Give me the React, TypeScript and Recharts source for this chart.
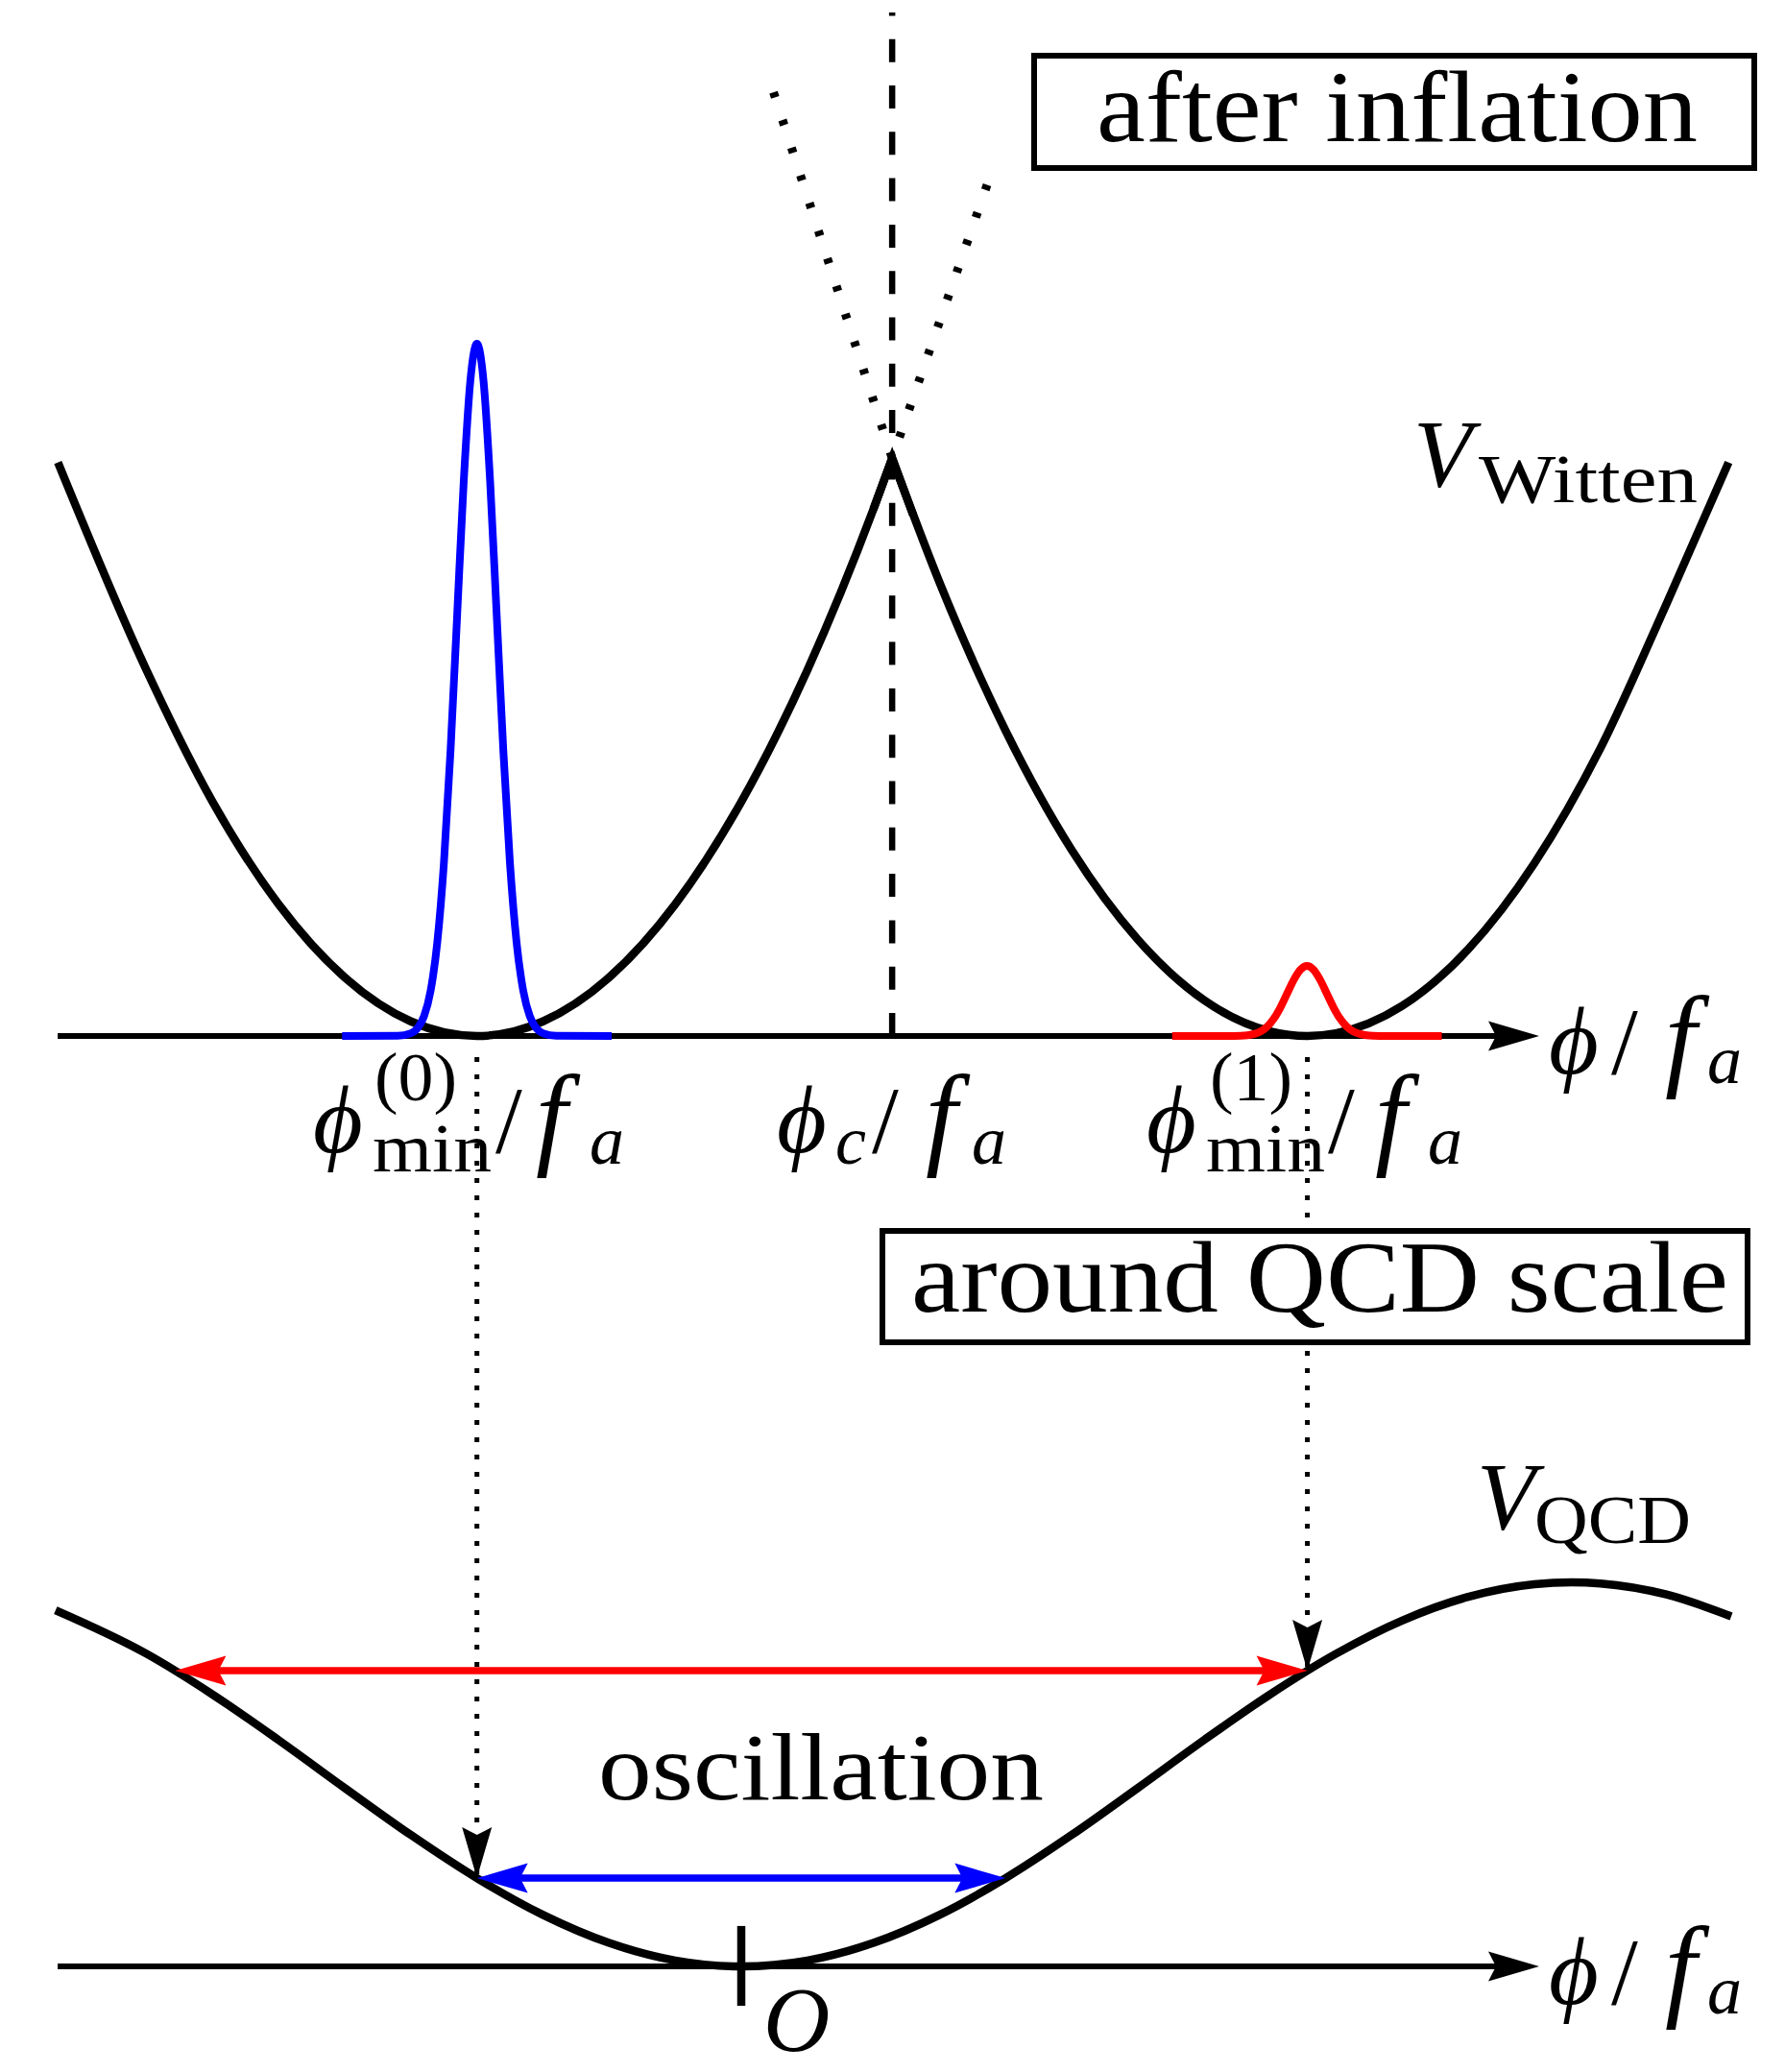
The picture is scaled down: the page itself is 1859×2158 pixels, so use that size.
import React from 'react';
import { ComposedChart, Line, XAxis, YAxis } from 'recharts';

// Horizontal unit: phi / f_a ; vertical: potential (same unit)
const wittenLeftPhi = [-2.585, -2.25, -2.0, -1.75, -1.5, -1.25, -1.0, -0.75, -0.5, -0.25, 0.0, 0.25, 0.5, 0.5708];
const wittenLeftV = [2.17, 1.384, 0.886, 0.498, 0.2215, 0.0554, 0, 0.0554, 0.2215, 0.498, 0.886, 1.384, 1.993, 2.186];
const wittenRightPhi = [0.5708, 0.75, 1.0, 1.25, 1.5, 1.75, 2.0, 2.1416, 2.25, 2.5, 2.75, 3.0, 3.25, 3.5, 3.735];
const wittenRightV = [2.186, 1.716, 1.155, 0.704, 0.365, 0.136, 0.0178, 0, 0.0104, 0.1138, 0.328, 0.653, 1.0885, 1.635, 2.17];
const cuspPhi = [0.5, 0.5708, 0.65];
const cuspV = [1.993, 2.186, 1.971];
const tangentLeftPhi = [0.122, 0.5708];
const tangentLeftV = [3.57, 2.186];
const tangentRightPhi = [0.93, 0.5708];
const tangentRightV = [3.22, 2.186];
const phiC = 0.5708;
const dashedTopV = 3.872;

const bluePacketPhi = [-1.51, -1.3, -1.25, -1.225, -1.2, -1.175, -1.15, -1.125, -1.1, -1.075, -1.05, -1.025, -1.0, -0.975, -0.95, -0.925, -0.9, -0.875, -0.85, -0.825, -0.8, -0.775, -0.75, -0.7, -0.49];
const bluePacketV = [0, 0.0009, 0.0101, 0.0291, 0.0748, 0.172, 0.354, 0.653, 1.077, 1.588, 2.097, 2.478, 2.619, 2.478, 2.097, 1.588, 1.077, 0.653, 0.354, 0.172, 0.0748, 0.0291, 0.0101, 0.0009, 0];
const redPacketPhi = [1.63, 1.84, 1.89, 1.915, 1.94, 1.965, 1.99, 2.015, 2.04, 2.065, 2.09, 2.115, 2.14, 2.165, 2.19, 2.215, 2.24, 2.265, 2.29, 2.315, 2.34, 2.365, 2.39, 2.44, 2.65];
const redPacketV = [0, 0.0001, 0.001, 0.0029, 0.0076, 0.0174, 0.0359, 0.0661, 0.1089, 0.1607, 0.2122, 0.2507, 0.265, 0.2507, 0.2122, 0.1607, 0.1089, 0.0661, 0.0359, 0.0174, 0.0076, 0.0029, 0.001, 0.0001, 0];

const qcdPhi = [-2.594, -2.25, -2.0, -1.75, -1.5, -1.25, -1.0, -0.75, -0.5, -0.25, 0, 0.25, 0.5, 0.75, 1.0, 1.25, 1.5, 1.75, 2.0, 2.25, 2.5, 2.75, 3.0, 3.1416, 3.25, 3.5, 3.745];
const qcdV = [1.3474, 1.1829, 1.0288, 0.856, 0.6751, 0.4974, 0.334, 0.1949, 0.0889, 0.0226, 0, 0.0226, 0.0889, 0.1949, 0.334, 0.4974, 0.6751, 0.856, 1.0288, 1.1829, 1.3085, 1.398, 1.4457, 1.453, 1.4487, 1.4069, 1.3243];

const phiMin0 = -1.0;
const phiMin1 = 2.1416;
const redSwingPhi = [-2.1416, 2.1416];
const redSwingV = 1.119;
const blueSwingPhi = [-1.0, 1.0];
const blueSwingV = 0.334;
const dropStartV = -0.08;
const axisPhi = [-2.586, 3.0185];
const tickV = [0.153, -0.149];

// layout
const TOP_BASE = 0;
const QCD_BASE = -3.52;
const W = 1859;
const H = 2158;

const pts = (xs: number[], vs: number[], base = 0, heads: (string | null)[] = []) =>
  xs.map((x, i) => ({ x, y: vs[i] + base, head: heads[i] ?? null }));

const wittenLeft = pts(wittenLeftPhi, wittenLeftV, TOP_BASE);
const wittenRight = pts(wittenRightPhi, wittenRightV, TOP_BASE);
const cusp = pts(cuspPhi, cuspV, TOP_BASE);
const tanL = pts(tangentLeftPhi, tangentLeftV, TOP_BASE);
const tanR = pts(tangentRightPhi, tangentRightV, TOP_BASE);
const dashed = pts([phiC, phiC], [0, dashedTopV], TOP_BASE);
const blueP = pts(bluePacketPhi, bluePacketV, TOP_BASE);
const redP = pts(redPacketPhi, redPacketV, TOP_BASE);
const qcd = pts(qcdPhi, qcdV, QCD_BASE);
const topAxis = pts(axisPhi, [0, 0], TOP_BASE, [null, 'right']);
const botAxis = pts(axisPhi, [0, 0], QCD_BASE, [null, 'right']);
const redArrow = pts(redSwingPhi, [redSwingV, redSwingV], QCD_BASE, ['left', 'right']);
const blueArrow = pts(blueSwingPhi, [blueSwingV, blueSwingV], QCD_BASE, ['left', 'right']);
const drop0 = [
  { x: phiMin0, y: dropStartV + TOP_BASE, head: null },
  { x: phiMin0, y: blueSwingV + QCD_BASE, head: 'down' },
];
const drop1 = [
  { x: phiMin1, y: dropStartV + TOP_BASE, head: null },
  { x: phiMin1, y: redSwingV + QCD_BASE, head: 'down' },
];
const tick = pts([0, 0], tickV, QCD_BASE);

const ANG: Record<string, number> = { right: 0, left: 180, down: 90 };
const headDot = (color: string) => (props: any) => {
  const { cx, cy, index, payload } = props;
  if (!payload || !payload.head) return <g key={`n${index}`} />;
  return (
    <path
      key={`h${index}`}
      d="M0 0 L-53 -15.5 L-45 0 L-53 15.5 Z"
      transform={`translate(${cx},${cy}) rotate(${ANG[payload.head]})`}
      fill={color}
      stroke="none"
    />
  );
};

const serif = "'Liberation Serif', 'DejaVu Serif', serif";
const T = ({ x, y, size, italic, len, children }: any) => (
  <text
    x={x}
    y={y}
    fontSize={size}
    fontFamily={serif}
    fontStyle={italic ? 'italic' : 'normal'}
    textLength={len}
    lengthAdjust={len ? 'spacingAndGlyphs' : undefined}
    fill="#000"
  >
    {children}
  </text>
);

const AxisLabel = ({ dy }: { dy: number }) => (
  <g>
    <T x={1613} y={1118 + dy} size={100} italic>ϕ</T>
    <T x={1678} y={1118 + dy} size={100}>/</T>
    <T x={1734} y={1120 + dy} size={118} italic>f</T>
    <T x={1778} y={1128 + dy} size={72} italic>a</T>
  </g>
);

const Overlay = () => (
  <svg width={W} height={H} style={{ position: 'absolute', left: 0, top: 0, pointerEvents: 'none' }}>
    <rect x={1077} y={58} width={750} height={117} fill="#fff" stroke="#000" strokeWidth={6} />
    <T x={1142} y={147} size={105} len={626}>after inflation</T>
    <rect x={919} y={1282} width={901} height={116} fill="#fff" stroke="#000" strokeWidth={6} />
    <T x={949} y={1366} size={105} len={851}>around QCD scale</T>

    <T x={1472} y={506} size={100} italic>V</T>
    <T x={1540} y={523} size={72} len={228}>Witten</T>
    <T x={1538} y={1592} size={100} italic>V</T>
    <T x={1598} y={1607} size={72} len={163}>QCD</T>

    <AxisLabel dy={0} />
    <AxisLabel dy={969} />

    <T x={326} y={1200} size={100} italic>ϕ</T>
    <T x={390} y={1146} size={72} len={86}>(0)</T>
    <T x={388} y={1220} size={72} len={124}>min</T>
    <T x={516} y={1200} size={100}>/</T>
    <T x={558} y={1202} size={118} italic>f</T>
    <T x={614} y={1212} size={72} italic>a</T>

    <T x={809} y={1200} size={100} italic>ϕ</T>
    <T x={870} y={1212} size={72} italic>c</T>
    <T x={908} y={1200} size={100}>/</T>
    <T x={964} y={1202} size={118} italic>f</T>
    <T x={1012} y={1212} size={72} italic>a</T>

    <T x={1194} y={1200} size={100} italic>ϕ</T>
    <T x={1260} y={1146} size={72} len={86}>(1)</T>
    <T x={1256} y={1220} size={72} len={124}>min</T>
    <T x={1383} y={1200} size={100}>/</T>
    <T x={1432} y={1202} size={118} italic>f</T>
    <T x={1487} y={1212} size={72} italic>a</T>

    <T x={623} y={1874} size={100} len={464}>oscillation</T>
    <T x={795} y={2136} size={96} italic>O</T>
  </svg>
);

const common = { dataKey: 'y', dot: false, activeDot: false, isAnimationActive: false } as any;

export default function App() {
  return (
    <div style={{ position: 'absolute', left: 0, top: 0, width: W, height: H, background: '#fff' }}>
      <ComposedChart width={W} height={H} margin={{ top: 0, right: 0, bottom: 0, left: 0 }}>
        <XAxis type="number" dataKey="x" domain={[-2.8042, 3.9484]} hide allowDataOverflow />
        <YAxis type="number" domain={[-3.9194, 3.9194]} hide allowDataOverflow />

        <Line {...common} data={topAxis} type="linear" stroke="#000" strokeWidth={6} strokeDasharray="1503 300" dot={headDot('#000')} />
        <Line {...common} data={botAxis} type="linear" stroke="#000" strokeWidth={6} strokeDasharray="1503 300" dot={headDot('#000')} />

        <Line {...common} data={dashed} type="linear" stroke="#000" strokeWidth={6.5} strokeDasharray="24 24.3" />
        <Line {...common} data={tanL} type="linear" stroke="#000" strokeWidth={9} strokeDasharray="5.5 24.8" />
        <Line {...common} data={tanR} type="linear" stroke="#000" strokeWidth={9} strokeDasharray="5.5 24.8" />

        <Line {...common} data={wittenLeft} type="monotone" stroke="#000" strokeWidth={8.5} />
        <Line {...common} data={wittenRight} type="monotone" stroke="#000" strokeWidth={8.5} />
        <Line {...common} data={cusp} type="linear" stroke="#000" strokeWidth={8.5} strokeLinejoin="miter" />

        <Line {...common} data={blueP} type="monotone" stroke="#0000ff" strokeWidth={8} />
        <Line {...common} data={redP} type="monotone" stroke="#ff0000" strokeWidth={8} />

        <Line {...common} data={qcd} type="monotone" stroke="#000" strokeWidth={8.5} />

        <Line {...common} data={drop0} type="linear" stroke="#000" strokeWidth={5} strokeDasharray="5 13" dot={headDot('#000')} />
        <Line {...common} data={drop1} type="linear" stroke="#000" strokeWidth={5} strokeDasharray="5 13" dot={headDot('#000')} />

        <Line {...common} data={redArrow} type="linear" stroke="#ff0000" strokeWidth={7.5} strokeDasharray="0 40 1099 300" dot={headDot('#ff0000')} />
        <Line {...common} data={blueArrow} type="linear" stroke="#0000ff" strokeWidth={7.5} strokeDasharray="0 40 470.6 300" dot={headDot('#0000ff')} />

        <Line {...common} data={tick} type="linear" stroke="#000" strokeWidth={8.5} />
      </ComposedChart>
      <Overlay />
    </div>
  );
}
